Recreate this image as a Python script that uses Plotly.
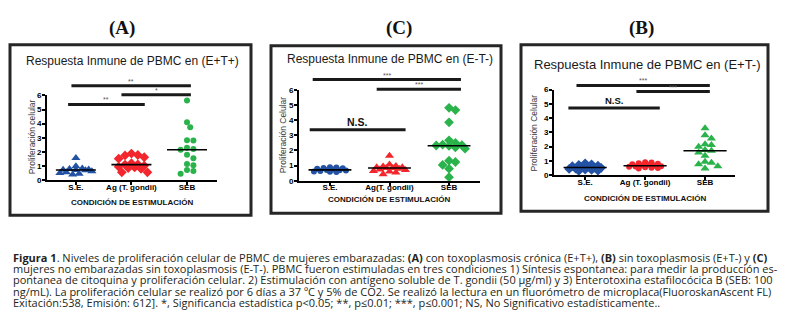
import math
import plotly.graph_objects as go

W, H = 787, 333

# ---------------- data ----------------
groups_A = ["S.E.", "Ag (T. gondii)", "SEB"]
groups_C = ["S.E.", "Ag(T. gondii)", "SEB"]
groups_B = ["S.E.", "Ag (T. gondii)", "SEB"]

A_se = [1.57, 0.98, 0.82, 0.78, 0.75, 0.73, 0.72, 0.70, 0.62, 0.55, 0.50, 0.45, 0.40]
A_ag = [1.88, 1.78, 1.75, 1.62, 1.52, 1.20, 1.12, 1.10, 1.02, 0.95, 0.90, 0.85, 0.80, 0.55, 0.55]
A_seb = [5.65, 4.10, 3.75, 2.82, 2.80, 2.30, 2.20, 2.15, 1.80, 1.55, 1.15, 1.05, 0.72, 0.65, 0.45]

C_se = [0.90, 0.88, 0.85, 0.82, 0.80, 0.75, 0.72, 0.70, 0.68, 0.65, 0.62, 0.60, 0.58]
C_ag = [1.65, 1.07, 0.98, 0.94, 0.90, 0.90, 0.85, 0.84, 0.80, 0.75, 0.72, 0.65, 0.62, 0.55, 0.43]
C_seb = [4.82, 4.67, 3.86, 2.67, 2.50, 2.38, 2.36, 2.33, 2.30, 2.20, 2.12, 1.33, 1.24, 1.05, 0.80, 0.24]

B_se = [0.82, 0.75, 0.70, 0.65, 0.62, 0.58, 0.55, 0.52, 0.50, 0.45, 0.42, 0.38, 0.35, 0.30, 0.28]
B_ag = [0.90, 0.88, 0.82, 0.78, 0.75, 0.72, 0.68, 0.65, 0.62, 0.60, 0.58, 0.55, 0.50, 0.48, 0.45]
B_seb = [3.28, 2.80, 2.57, 2.15, 2.10, 1.98, 1.75, 1.70, 1.58, 1.35, 0.92, 0.85, 0.75, 0.62, 0.45]

y_ticks = [0, 1, 2, 3, 4, 5, 6]

# significance comparisons: (label, group i, group j)
sig_A = [("**", 0, 1), ("*", 1, 2), ("**", 0, 2)]
sig_C = [("N.S.", 0, 1), ("***", 1, 2), ("***", 0, 2)]
sig_B = [("N.S.", 0, 1), ("***", 1, 2), ("***", 0, 2)]

caption_lines = [
    "<b>Figura 1</b>. Niveles de proliferación celular de PBMC de mujeres embarazadas: <b>(A)</b> con toxoplasmosis crónica (E+T+), <b>(B)</b> sin toxoplasmosis (E+T-) y <b>(C)</b>",
    "mujeres no embarazadas sin toxoplasmosis (E-T-). PBMC fueron estimuladas en tres condiciones 1) Síntesis espontanea: para medir la producción es-",
    "pontanea de citoquina y proliferación celular. 2) Estimulación con antígeno soluble de T. gondii (50 µg/ml) y 3) Enterotoxina estafilocócica B (SEB: 100",
    "ng/mL). La proliferación celular se realizó por 6 días a 37 ºC y 5% de CO2. Se realizó la lectura en un fluorómetro de microplaca(FluoroskanAscent FL)",
    "Exitación:538, Emisión: 612]. *, Significancia estadística p<0.05; **, p≤0.01; ***, p≤0.001; NS, No Significativo estadísticamente..",
]

# ---------------- style / layout ----------------
BLUE, RED, GREEN = "#2352a5", "#f2262c", "#2ab24b"
COLORS = [BLUE, RED, GREEN]
SIZES = {"triangle-up": 8, "diamond": 7.5, "circle": 6}
AX_FONT = dict(family="Liberation Sans, Arial", size=8, color="black", weight="bold")

panels = [
    dict(letter="(A)", title="Respuesta Inmune de PBMC en (E+T+)", groups=groups_A,
         data=[A_se, A_ag, A_seb], symbols=["triangle-up", "diamond", "circle"],
         ytitle="Proliferación celular", box=(10, 42, 251, 217), plot=(47, 217, 181, 94),
         xr=(-0.52, 2.54), letter_xy=(122, 25), title_xy=(132, 59), title_size=12,
         xtitle_xy=(132, 204), ytitle_xy=(32, 137), sig=sig_A,
         sig_geom=[(-0.14, 1.24, 5.36), (0.82, 2.07, 6.05), (-0.08, 2.07, 6.69)], ns_size=10),
    dict(letter="(C)", title="Respuesta Inmune de PBMC en (E-T-)", groups=groups_C,
         data=[C_se, C_ag, C_seb], symbols=["circle", "triangle-up", "diamond"],
         ytitle="Proliferación Celular", box=(271, 43, 501, 215), plot=(299, 480, 181.7, 88.3),
         xr=(-0.52, 2.52), letter_xy=(399, 25), title_xy=(390, 57), title_size=12,
         xtitle_xy=(389, 201), ytitle_xy=(283, 135), sig=sig_C,
         sig_geom=[(-0.34, 1.27, 3.37), (0.785, 2.2, 6.04), (-0.29, 2.2, 6.68)], ns_size=10.5),
    dict(letter="(B)", title="Respuesta Inmune de PBMC en (E+T-)", groups=groups_B,
         data=[B_se, B_ag, B_seb], symbols=["diamond", "circle", "triangle-up"],
         ytitle="Proliferación Celular", box=(521, 42, 768, 213), plot=(554, 735, 175.7, 88),
         xr=(-0.52, 2.5), letter_xy=(641, 25), title_xy=(647, 62), title_size=13,
         xtitle_xy=(645, 200), ytitle_xy=(534, 133), sig=sig_B,
         sig_geom=[(-0.28, 1.245, 4.70), (0.855, 2.08, 5.86), (-0.145, 2.08, 6.29)], ns_size=9.5),
]


def px(x):
    return x / W


def py(y):
    return 1 - y / H


def swarm(vals, ppc, ppu, d=5.8, step=3.2, cap=19):
    """Deterministic beeswarm offsets (returned in category units)."""
    placed = []
    res = [0.0] * len(vals)
    order = sorted(range(len(vals)), key=lambda i: -vals[i])
    cands = [0.0]
    m = 1
    while m * step <= cap:
        cands += [m * step, -m * step]
        m += 1
    for i in order:
        yy = vals[i] * ppu
        chosen, best, bestd = None, 0.0, -1
        for c in cands:
            md = min([math.hypot(c - a, yy - b) for a, b in placed] or [1e9])
            if md >= d:
                chosen = c
                break
            if md > bestd:
                best, bestd = c, md
        if chosen is None:
            chosen = best
        placed.append((chosen, yy))
        res[i] = chosen / ppc
    return res


def median(v):
    s = sorted(v)
    n = len(s)
    return s[n // 2] if n % 2 else 0.5 * (s[n // 2 - 1] + s[n // 2])


fig = go.Figure()
shapes, annotations = [], []
layout_axes = {}
ymax = y_ticks[-1]

for k, p in enumerate(panels):
    sfx = "" if k == 0 else str(k + 1)
    xa, ya = "x" + sfx, "y" + sfx
    x0, x1, y0p, y6p = p["plot"]
    r0, r1 = p["xr"]
    ppc = (x1 - x0) / (r1 - r0)
    ppu = (y0p - y6p) / ymax

    for g, vals in enumerate(p["data"]):
        offs = swarm(vals, ppc, ppu)
        sym = p["symbols"][g]
        fig.add_trace(go.Scatter(
            x=[g + o for o in offs], y=vals, mode="markers", xaxis=xa, yaxis=ya,
            marker=dict(symbol=sym, size=SIZES[sym], color=COLORS[g], line=dict(width=0)),
            hoverinfo="skip", showlegend=False, cliponaxis=False))
        m = median(vals)
        fig.add_trace(go.Scatter(
            x=[g - 0.36, g + 0.36], y=[m, m], mode="lines", xaxis=xa, yaxis=ya,
            line=dict(color="black", width=1.6), hoverinfo="skip", showlegend=False))

    layout_axes["xaxis" + sfx] = dict(
        domain=[px(x0), px(x1)], range=[r0, r1], anchor=ya,
        tickvals=[0, 1, 2], ticktext=p["groups"], showline=True, linecolor="black",
        linewidth=2, ticks="outside", ticklen=3, tickwidth=2, tickcolor="black",
        ticklabelstandoff=-5,
        tickfont=AX_FONT, showgrid=False, zeroline=False, fixedrange=True)
    layout_axes["yaxis" + sfx] = dict(
        domain=[py(y0p), py(y6p)], range=[0, ymax], anchor=xa,
        tickvals=y_ticks, showline=True, linecolor="black", linewidth=2,
        ticks="outside", ticklen=3, tickwidth=2, tickcolor="black",
        ticklabelstandoff=-1,
        tickfont=AX_FONT, showgrid=False, zeroline=False, fixedrange=True)

    # significance bars
    for (lab, gi, gj), (xs, xe, lev) in zip(p["sig"], p["sig_geom"]):
        dx0 = (xs - r0) / (r1 - r0)
        dx1 = (xe - r0) / (r1 - r0)
        dy = lev / ymax
        shapes.append(dict(type="line", xref=xa + " domain", yref=ya + " domain",
                           x0=dx0, x1=dx1, y0=dy, y1=dy,
                           line=dict(color="#1a1a1a", width=3)))
        if lab == "N.S.":
            font = dict(family="Liberation Sans, Arial", size=p["ns_size"], color="#111", weight="bold")
            ysh = 1
        else:
            font = dict(family="Liberation Sans, Arial", size=7, color="#555")
            ysh = 0
        annotations.append(dict(text=lab, xref=xa + " domain", yref=ya + " domain",
                                x=(dx0 + dx1) / 2, y=dy, xanchor="center", yanchor="bottom",
                                yshift=ysh, showarrow=False, font=font, borderpad=0))

    # panel box
    bx0, by0, bx1, by1 = p["box"]
    shapes.append(dict(type="rect", xref="paper", yref="paper",
                       x0=px(bx0), x1=px(bx1), y0=py(by1), y1=py(by0),
                       line=dict(color="#262626", width=3)))
    # texts
    annotations.append(dict(text="<b>" + p["letter"] + "</b>", xref="paper", yref="paper",
                            x=px(p["letter_xy"][0]), y=py(p["letter_xy"][1]),
                            xanchor="center", yanchor="middle", showarrow=False,
                            font=dict(family="Liberation Serif, Times New Roman", size=19, color="#111")))
    annotations.append(dict(text=p["title"], xref="paper", yref="paper",
                            x=px(p["title_xy"][0]), y=py(p["title_xy"][1]),
                            xanchor="center", yanchor="middle", showarrow=False,
                            font=dict(family="Liberation Sans, Arial", size=p["title_size"], color="#1a1a1a")))
    annotations.append(dict(text="CONDICIÓN DE ESTIMULACIÓN", xref="paper", yref="paper",
                            x=px(p["xtitle_xy"][0]), y=py(p["xtitle_xy"][1]),
                            xanchor="center", yanchor="middle", showarrow=False,
                            font=dict(family="Liberation Sans, Arial", size=8, color="#111", weight="bold")))
    annotations.append(dict(text=p["ytitle"], xref="paper", yref="paper",
                            x=px(p["ytitle_xy"][0]), y=py(p["ytitle_xy"][1]),
                            xanchor="center", yanchor="middle", showarrow=False, textangle=-90,
                            font=dict(family="Liberation Sans, Arial", size=8.5, color="#3a3a3a")))

# caption: one text block, tight leading (base size sets line spacing)
LEAD = 11.2
cap_text = "<br>".join('<span style="font-size:11px">' + ln + "</span>" for ln in caption_lines)
annotations.append(dict(text=cap_text, xref="paper", yref="paper",
                        x=px(12), y=py(261 + 2 * LEAD), xanchor="left", yanchor="middle",
                        align="left", showarrow=False, borderpad=0,
                        font=dict(family="Open Sans", size=LEAD / 1.3, color="#231f20")))

fig.update_layout(
    width=W, height=H, margin=dict(l=0, r=0, t=0, b=0),
    paper_bgcolor="white", plot_bgcolor="white", showlegend=False,
    shapes=shapes, annotations=annotations, hovermode=False, **layout_axes)

fig.write_html("out.html", config={"displayModeBar": False, "staticPlot": True},
               post_script="document.body.style.margin='0px';document.body.style.padding='0px';")
